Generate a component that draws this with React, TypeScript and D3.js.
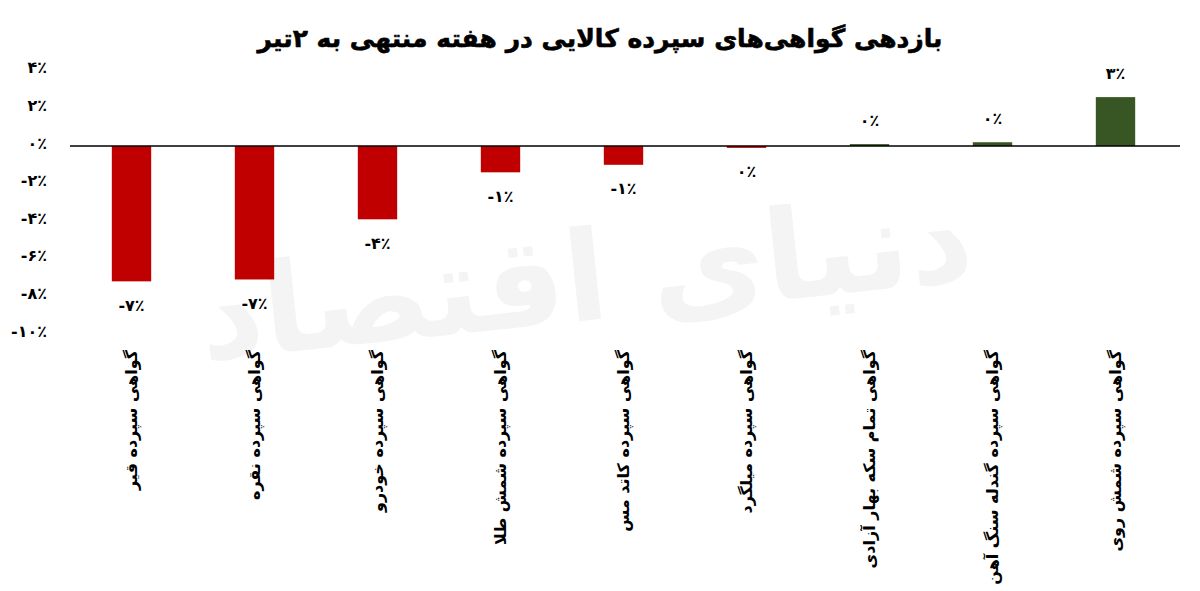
import React from "react";
import * as d3 from "d3";

const title = "بازدهی گواهی‌های سپرده کالایی در هفته منتهی به ۲تیر";
const categories = [
  "گواهی سپرده قیر",
  "گواهی سپرده نقره",
  "گواهی سپرده خودرو",
  "گواهی سپرده شمش طلا",
  "گواهی سپرده کاتد مس",
  "گواهی سپرده میلگرد",
  "گواهی تمام سکه بهار آزادی",
  "گواهی سپرده گندله سنگ آهن",
  "گواهی سپرده شمش روی",
];
const values = [-7.2, -7.1, -3.9, -1.4, -1.0, -0.1, 0.1, 0.2, 2.6];
const yTicks = [4, 2, 0, -2, -4, -6, -8, -10];
const watermark = "دنیای اقتصاد";

const W = 1200;
const H = 591;
const FONT = "'DejaVu Sans', sans-serif";

const toFa = (s: string) => s.replace(/[0-9]/g, (d) => "۰۱۲۳۴۵۶۷۸۹"[+d]);
const fmt = (v: number) => {
  const r = Math.round(v);
  return toFa(String(r === 0 ? 0 : r)) + "٪";
};

export default function App() {
  const x = d3
    .scaleBand<string>()
    .domain(categories)
    .range([70, 1177])
    .paddingInner(0.68)
    .paddingOuter(0.34);
  const y = d3.scaleLinear().domain([-10, 4]).range([334, 70.8]);
  const bw = x.bandwidth();

  return (
    <svg
      width={W}
      height={H}
      style={{ position: "absolute", left: 0, top: 0, background: "#fff" }}
      fontFamily={FONT}
    >
      <rect width={W} height={H} fill="#fff" />
      <text
        x={590}
        y={320}
        textAnchor="middle"
        fontSize={125}
        fontWeight="bold"
        fill="#f4f4f4"
        transform="rotate(-6 590 320)"
      >
        {watermark}
      </text>
      <text
        x={600}
        y={47}
        textAnchor="middle"
        fontSize={25}
        fontWeight="bold"
        fill="#000"
        stroke="#000"
        strokeWidth={0.6}
      >
        {title}
      </text>
      {yTicks.map((t) => (
        <text
          key={t}
          x={47}
          y={y(t) - 3}
          dy="0.35em"
          textAnchor="end"
          fontSize={16}
          fontWeight="bold"
          fill="#000"
        >
          {toFa(String(t)) + "٪"}
        </text>
      ))}
      {categories.map((c, i) => {
        const v = values[i];
        const x0 = x(c)!;
        const top = y(Math.max(0, v));
        const h = Math.abs(y(v) - y(0));
        return (
          <g key={c}>
            <rect
              x={x0}
              y={top}
              width={bw}
              height={Math.max(h, 1.5)}
              fill={v < 0 ? "#C00000" : "#375623"}
            />
            <text
              x={x0 + bw / 2}
              y={v < 0 ? y(v) + 24 : y(v) - 24}
              dy="0.35em"
              textAnchor="middle"
              fontSize={16}
              fontWeight="bold"
              fill="#000"
            >
              {fmt(v)}
            </text>
            <text
              transform={`translate(${x0 + bw / 2},350) rotate(-90)`}
              dy="0.35em"
              textAnchor="end"
              fontSize={16}
              fontWeight="bold"
              fill="#000"
            >
              {c}
            </text>
          </g>
        );
      })}
      <line
        x1={70}
        x2={1180}
        y1={y(0)}
        y2={y(0)}
        stroke="#000"
        strokeWidth={1.5}
      />
    </svg>
  );
}
